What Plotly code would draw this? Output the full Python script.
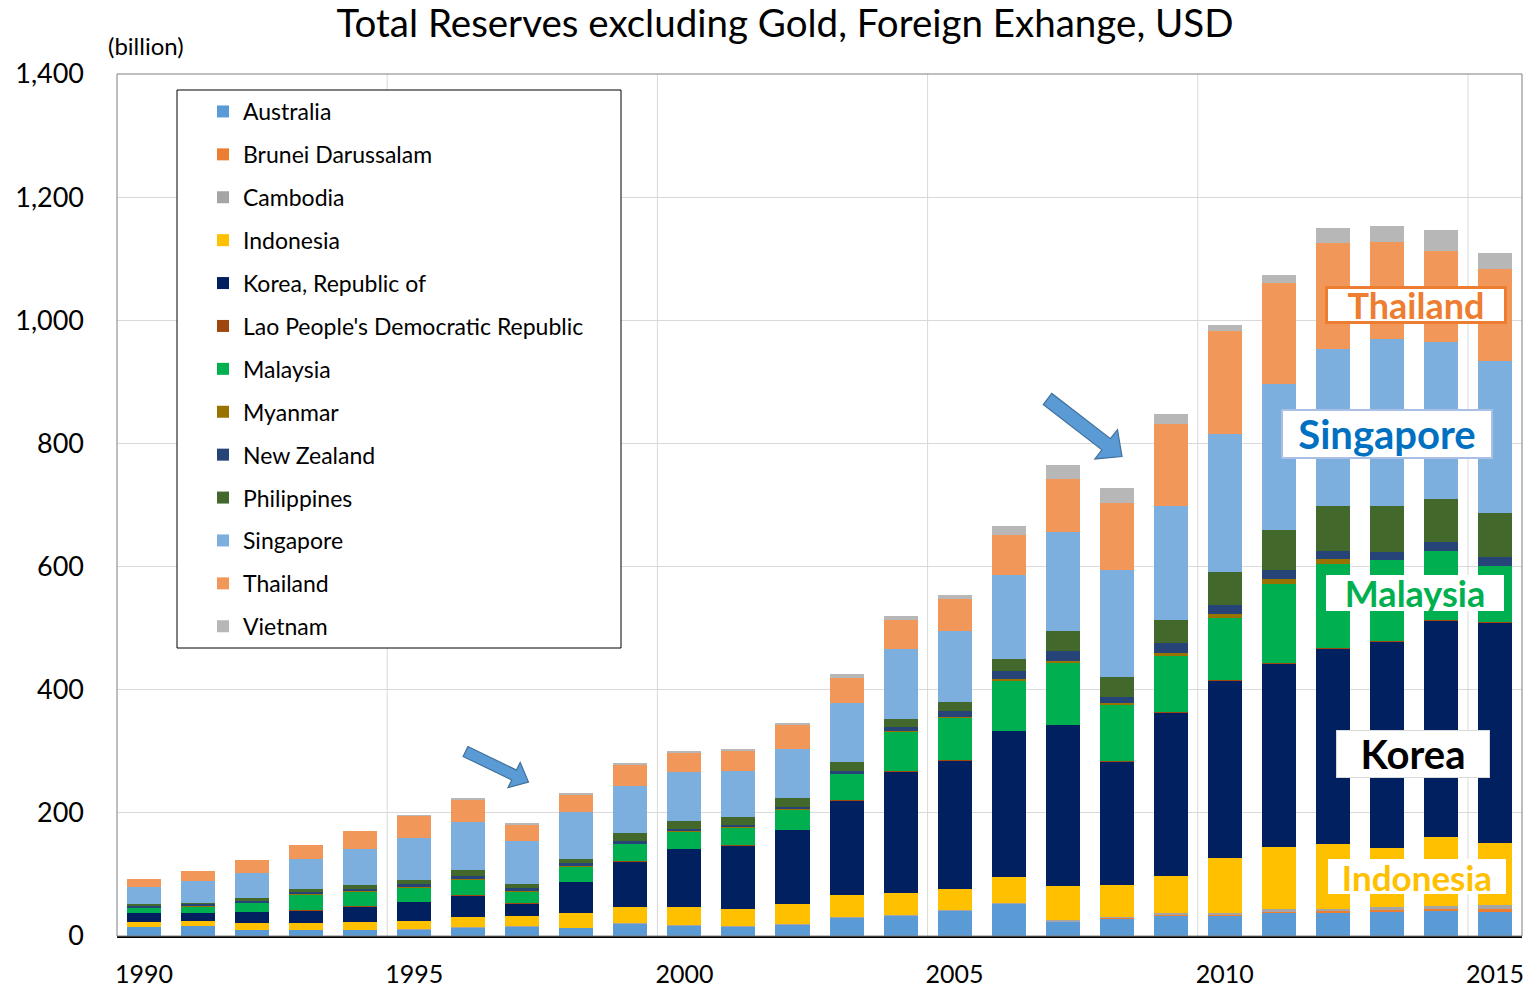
import plotly.graph_objects as go
import math

years = list(range(1990, 2016))

australia = [15.0, 16.5, 10.0, 10.0, 10.0, 11.2, 14.5, 16.0, 13.5, 20.0, 17.3, 16.2, 19.0, 30.5, 33.0, 41.2, 52.9, 23.5, 28.7, 33.6, 33.5, 38.0, 38.0, 39.5, 40.5, 40.3]
brunei = [0, 0, 0, 0, 0, 0, 0, 0, 0, 0, 0, 0, 0, 0, 0, 0, 0, 0.5, 0.7, 1.4, 1.6, 2.2, 3.3, 3.4, 3.4, 3.1]
cambodia = [0, 0, 0, 0.1, 0.1, 0.2, 0.3, 0.3, 0.3, 0.4, 0.5, 0.6, 0.8, 0.8, 0.9, 1.0, 1.1, 1.4, 1.8, 1.8, 2.5, 3.0, 3.3, 4.3, 5.5, 6.2]
indonesia = [7.7, 8.1, 11.3, 11.3, 13.0, 13.0, 16.8, 16.8, 22.8, 26.0, 28.7, 27.6, 31.9, 34.6, 35.3, 34.1, 41.8, 55.8, 51.0, 60.6, 89.9, 101.6, 105.1, 96.2, 110.6, 101.8]
korea = [15.2, 13.0, 16.9, 20.1, 24.9, 31.3, 34.6, 20.0, 51.4, 74.7, 95.3, 102.8, 120.7, 154.8, 198.7, 209.5, 237.6, 261.8, 200.8, 265.8, 287.0, 298.3, 317.5, 335.0, 352.7, 358.0]
lao = [0.1, 0.1, 0.0, 0.1, 0.1, 0.1, 0.2, 0.1, 0.1, 0.1, 0.1, 0.1, 0.2, 0.2, 0.2, 0.2, 0.3, 0.5, 0.6, 0.6, 0.7, 0.7, 0.7, 0.7, 0.8, 0.9]
malaysia = [7.7, 11.0, 15.7, 26.0, 24.8, 23.3, 25.4, 19.5, 25.3, 28.7, 28.0, 28.6, 32.7, 42.4, 64.5, 68.2, 82.0, 101.0, 91.1, 91.2, 101.9, 128.4, 136.6, 131.7, 111.7, 90.9]
myanmar = [0.3, 0.3, 0.3, 0.4, 0.4, 0.6, 0.2, 0.25, 0.3, 0.3, 0.2, 0.4, 0.5, 0.6, 0.7, 0.8, 1.2, 2.6, 3.3, 5.0, 5.2, 8.2, 7.1, 0, 0, 0]
new_zealand = [4.2, 3.3, 2.7, 3.3, 3.0, 4.4, 5.4, 4.4, 4.3, 3.8, 3.3, 3.8, 4.5, 4.5, 6.6, 10.4, 13.5, 16.2, 10.4, 15.3, 15.1, 14.3, 14.3, 13.6, 14.3, 14.5]
philippines = [1.6, 2.1, 4.9, 4.8, 6.5, 7.0, 9.6, 7.0, 7.5, 13.0, 13.5, 13.6, 13.5, 13.5, 13.0, 15.1, 20.0, 31.5, 32.5, 37.7, 54.5, 65.4, 72.6, 74.1, 70.2, 71.7]
singapore = [27.0, 35.2, 39.8, 48.2, 58.5, 67.6, 78.0, 70.4, 76.4, 77.2, 79.0, 74.1, 80.7, 95.8, 112.6, 114.8, 135.4, 161.7, 174.0, 185.3, 223.0, 236.0, 254.5, 270.5, 254.5, 246.4]
thailand = [14.0, 15.7, 21.3, 24.3, 29.2, 36.3, 37.0, 26.6, 28.6, 33.7, 31.9, 33.0, 38.3, 41.7, 47.4, 51.5, 65.9, 85.9, 108.5, 133.2, 167.0, 164.2, 172.2, 158.0, 148.8, 149.2]
vietnam = [0, 0, 0, 0, 0, 1.3, 1.7, 2.0, 2.0, 2.7, 2.7, 3.3, 2.9, 6.0, 6.7, 7.5, 13.6, 23.2, 24.8, 16.2, 11.0, 12.9, 24.7, 26.0, 33.8, 26.2]

series_names = ["Australia", "Brunei Darussalam", "Cambodia", "Indonesia", "Korea, Republic of",
                "Lao People's Democratic Republic", "Malaysia", "Myanmar", "New Zealand",
                "Philippines", "Singapore", "Thailand", "Vietnam"]
series_values = [australia, brunei, cambodia, indonesia, korea, lao, malaysia, myanmar,
                 new_zealand, philippines, singapore, thailand, vietnam]
series_colors = ["#5B9BD5", "#ED7D31", "#A5A5A5", "#FFC000", "#002060", "#9E480E", "#00B050",
                 "#997300", "#264478", "#43682B", "#7CAFDD", "#F1975A", "#B7B7B7"]

tick_years = [1990, 1995, 2000, 2005, 2010, 2015]
y_ticks = [0, 200, 400, 600, 800, 1000, 1200, 1400]

FONT = "Lato, 'Open Sans', sans-serif"

# page geometry (pixels)
W, H = 1530, 991
L, R, T, B = 117, 1522, 74, 936


def px(x):
    return (x - L) / (R - L)


def py(y):
    return (B - y) / (B - T)


fig = go.Figure()
for name, vals, col in zip(series_names, series_values, series_colors):
    fig.add_trace(go.Bar(x=years, y=vals, name=name, marker_color=col,
                         marker_line_width=0, legendgroup=name))

shapes = []
# vertical gridlines between category groups
for gx in [1994.5, 1999.5, 2004.5, 2009.5, 2014.5]:
    shapes.append(dict(type="line", xref="x", yref="paper", x0=gx, x1=gx, y0=0, y1=1,
                       line=dict(color="#D9D9D9", width=1), layer="below"))
# plot frame
shapes.append(dict(type="rect", xref="paper", yref="paper", x0=0, x1=1, y0=0, y1=1,
                   line=dict(color="#7F7F7F", width=1), layer="above"))
# legend box
shapes.append(dict(type="rect", xref="paper", yref="paper", x0=px(177), x1=px(621),
                   y0=py(648), y1=py(90), fillcolor="white",
                   line=dict(color="#000000", width=1), layer="above"))


def arrow(tail, tip, sw, hw, hl):
    dx, dy = tip[0] - tail[0], tip[1] - tail[1]
    d = math.hypot(dx, dy)
    ux, uy = dx / d, dy / d
    nx, ny = -uy, ux
    bx, by = tip[0] - ux * hl, tip[1] - uy * hl
    pts = [(tail[0] + nx * sw / 2, tail[1] + ny * sw / 2),
           (bx + nx * sw / 2, by + ny * sw / 2),
           (bx + nx * hw / 2, by + ny * hw / 2),
           tip,
           (bx - nx * hw / 2, by - ny * hw / 2),
           (bx - nx * sw / 2, by - ny * sw / 2),
           (tail[0] - nx * sw / 2, tail[1] - ny * sw / 2)]
    path = "M " + " L ".join(f"{px(a):.5f},{py(b):.5f}" for a, b in pts) + " Z"
    return dict(type="path", xref="paper", yref="paper", path=path,
                fillcolor="#5B9BD5", line=dict(color="#41719C", width=1.2), layer="above")


shapes.append(arrow((465.5, 751.5), (528.5, 782.0), 11, 28, 16))
shapes.append(arrow((1047.5, 399.0), (1122.0, 456.5), 14, 37, 20))

annotations = [
    dict(text="(billion)", xref="paper", yref="paper", x=px(146), y=py(45),
         xanchor="center", yanchor="middle", showarrow=False,
         font=dict(family=FONT, size=24, color="#000000")),
]


def label(text, cx, cy, w, h, color, size, border, bw):
    return dict(text=f"<b>{text}</b>", xref="paper", yref="paper", x=px(cx), y=py(cy),
                xanchor="center", yanchor="middle", showarrow=False,
                width=w, height=h, bgcolor="white", bordercolor=border, borderwidth=bw,
                borderpad=0, font=dict(family=FONT, size=size, color=color))


annotations += [
    label("Thailand", 1416, 305, 176, 32, "#ED7D31", 36, "#ED7D31", 3),
    label("Singapore", 1386.5, 433.7, 208, 46, "#0070C0", 40, "#A9BFE6", 2),
    label("Malaysia", 1415, 593, 178, 36, "#00B050", 36, "white", 0),
    label("Korea", 1413, 754, 152, 46, "#000000", 40, "#D9D9D9", 1),
    label("Indonesia", 1417, 876, 178, 35, "#FFC000", 35, "white", 0),
]

fig.update_layout(
    width=W, height=H,
    margin=dict(l=L, r=W - R, t=T, b=H - B, pad=0, autoexpand=False),
    paper_bgcolor="white", plot_bgcolor="white",
    barmode="stack", bargap=0.37,
    font=dict(family=FONT, color="#000000"),
    title=dict(text="Total Reserves excluding Gold, Foreign Exhange, USD",
               x=785 / W, xanchor="center", y=1 - 24 / H, yanchor="middle",
               font=dict(family=FONT, size=38.5, color="#000000")),
    xaxis=dict(range=[1989.5, 2015.5], tickvals=tick_years, ticktext=[str(t) for t in tick_years],
               showgrid=False, zeroline=False, showline=True, linecolor="#000000", linewidth=1.5,
               ticks="", tickfont=dict(family=FONT, size=25, color="#000000"),
               ticklabelstandoff=15, automargin=False),
    yaxis=dict(range=[0, 1400], tickvals=y_ticks, tickformat=",", showgrid=True,
               gridcolor="#D9D9D9", gridwidth=1, zeroline=False, showline=False,
               ticks="", tickfont=dict(family=FONT, size=27, color="#000000"),
               ticklabelstandoff=32, automargin=False),
    legend=dict(x=px(203), xanchor="left", y=py(90), yanchor="top",
                bgcolor="rgba(0,0,0,0)", borderwidth=0, traceorder="grouped",
                tracegroupgap=10, itemsizing="constant",
                font=dict(family=FONT, size=23, color="#000000")),
    shapes=shapes,
    annotations=annotations,
    showlegend=True,
)

fig.write_html("out.html")
